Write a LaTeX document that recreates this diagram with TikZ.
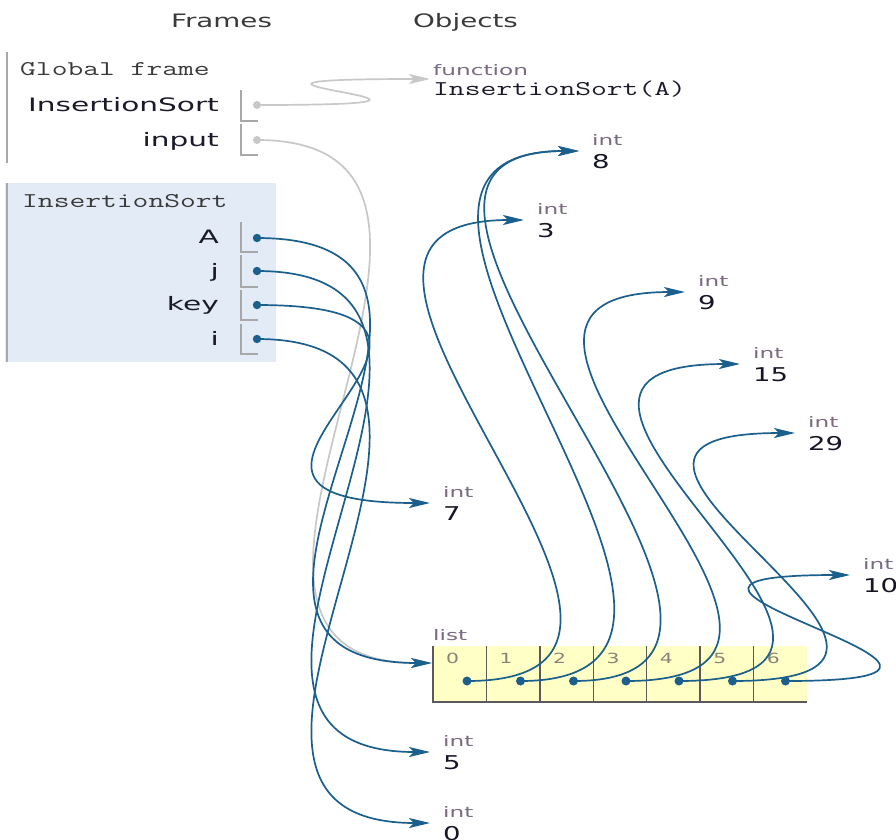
\documentclass[tikz,border=0pt]{standalone}
\usepackage{fontspec}
\usepackage{graphicx}
\setmainfont{DejaVu Sans}
\usetikzlibrary{arrows.meta}
\definecolor{arrowblue}{HTML}{1B5F8C}
\definecolor{lightgray}{HTML}{C8C8C8}
\definecolor{barcol}{HTML}{A8A8A8}
\definecolor{framebg}{HTML}{E2EBF6}
\definecolor{listbg}{HTML}{FFFFC6}
\definecolor{listline}{HTML}{5A5A5A}
\definecolor{hdrcol}{HTML}{3A3A3A}
\definecolor{varcol}{HTML}{1A1A2A}
\definecolor{typecol}{HTML}{7A6A82}
\definecolor{valcol}{HTML}{151525}
\definecolor{idxcol}{HTML}{8A8278}
\newcommand\sx[2]{\scalebox{#1}[1]{#2}}
\begin{document}
\begin{tikzpicture}[x=1pt,y=-1pt,
  hdr/.style={text=hdrcol,font=\fontsize{18.5}{20}\selectfont,inner sep=0pt,anchor=base},
  varname/.style={text=varcol,font=\fontsize{18.5}{20}\selectfont,inner sep=0pt,anchor=base east},
  monotext/.style={text=hdrcol,font=\ttfamily\fontsize{21}{24}\selectfont,inner sep=0pt,anchor=base west},
  typelab/.style={text=typecol,font=\fontsize{14.5}{16}\selectfont,inner sep=0pt,anchor=base west},
  valtext/.style={text=valcol,font=\fontsize{19}{21}\selectfont,inner sep=0pt,anchor=base west},
  idx/.style={text=idxcol,font=\fontsize{14}{16}\selectfont,inner sep=0pt,anchor=base west},
  ptrbox/.style={draw=barcol,line width=1.2pt},
  framebar/.style={draw=barcol,line width=2pt},
  ptr/.style={draw=arrowblue,line width=1.7pt,-{Stealth[length=21pt,width=10pt,inset=5pt]}},
  gptr/.style={draw=lightgray,line width=1.7pt,-{Stealth[length=21pt,width=10pt,inset=5pt]}},
  bdot/.style={fill=arrowblue},
  gdot/.style={fill=lightgray}
]
\useasboundingbox (0,0) rectangle (896,839);
\fill[white] (0,0) rectangle (896,839);

% headers
\node[hdr] (hframes) at (221.5,27) {\sx{1.5}{Frames}};
\node[hdr] (hobjects) at (465.5,27) {\sx{1.5}{Objects}};

% global frame
\draw[framebar] (7,52) -- (7,163);
\node[monotext] (gtitle) at (20,75) {\sx{1.46}{Global frame}};
\node[varname] (vIS) at (219,111) {\sx{1.6}{InsertionSort}};
\node[varname] (vinput) at (219,146) {\sx{1.6}{input}};
\draw[ptrbox] (241,90) -- (241,121) -- (258,121);
\draw[ptrbox] (241,124) -- (241,155) -- (258,155);
\coordinate (dIS) at (257,105);
\coordinate (dinput) at (257,140);

% local frame
\fill[framebg] (5,183) rectangle (276,362);
\draw[framebar] (7,183) -- (7,362);
\node[monotext] (ltitle) at (22,207) {\sx{1.46}{InsertionSort}};
\node[varname] (vA) at (219,243) {\sx{1.6}{A}};
\node[varname] (vj) at (219,277) {\sx{1.6}{j}};
\node[varname] (vkey) at (219,310) {\sx{1.6}{key}};
\node[varname] (vi) at (219,345) {\sx{1.6}{i}};
\draw[ptrbox] (241,222) -- (241,252) -- (258,252);
\draw[ptrbox] (241,255) -- (241,287) -- (258,287);
\draw[ptrbox] (241,290) -- (241,320) -- (258,320);
\draw[ptrbox] (241,324) -- (241,354) -- (258,354);
\coordinate (dA) at (257,238);
\coordinate (dj) at (257,271);
\coordinate (dkey) at (257,305);
\coordinate (di) at (257,339);

% function object
\node[typelab] (ofunc) at (433,75) {\sx{1.6}{function}};
\node[monotext,text=varcol] (ofuncname) at (433,95) {\sx{1.46}{InsertionSort(A)}};
\coordinate (tfunc) at (430,79);

% int objects
\newcommand\intobj[4]{%
  \node[typelab] (ot#1) at (#2,#3-6) {\sx{1.6}{int}};
  \node[valtext] (ov#1) at (#2,#3+17) {\sx{1.45}{#4}};
  \coordinate (t#1) at (#2-13,#3);}
\intobj{8}{592}{151}{8}
\intobj{3}{537}{220}{3}
\intobj{9}{698}{292}{9}
\intobj{15}{753}{364}{15}
\intobj{29}{808}{433}{29}
\intobj{10}{863}{575}{10}
\intobj{7}{443}{503}{7}
\intobj{5}{443}{752}{5}
\intobj{0}{443}{823}{0}

% list object
\node[typelab] (olist) at (433,640) {\sx{1.6}{list}};
\fill[listbg] (433,646) rectangle (807,702);
\foreach \k/\xx in {0/433,1/486.4,2/539.9,3/593.3,4/646.7,5/700.1,6/753.6}{
  \draw[listline,line width=1.5pt] (\xx,646) -- (\xx,702);
  \node[idx] (idx\k) at (\xx+13,663) {\sx{1.45}{\k}};
}
\draw[listline,line width=1.5pt] (432.25,702) -- (807,702);
\coordinate (tlist) at (432,663);
\coordinate (e0) at (467,681);
\coordinate (e1) at (520.5,681);
\coordinate (e2) at (573.5,681);
\coordinate (e3) at (626,681);
\coordinate (e4) at (679,681);
\coordinate (e5) at (732.5,681);
\coordinate (e6) at (785.5,681);

% gray pointers
\draw[gptr] (dIS) .. controls +(300,0) and +(-300,0) .. (tfunc);
\draw[gptr] (dinput) .. controls +(300,0) and +(-300,0) .. (tlist);
\fill[gdot] (dIS) circle (4);
\fill[gdot] (dinput) circle (4);

% variable pointers
\draw[ptr] (dA) .. controls +(300,0) and +(-300,0) .. (tlist);
\draw[ptr] (dj) .. controls +(300,0) and +(-300,0) .. (t5);
\draw[ptr] (dkey) .. controls +(300,0) and +(-300,0) .. (t7);
\draw[ptr] (di) .. controls +(300,0) and +(-300,0) .. (t0);
\foreach \d in {dA,dj,dkey,di}{\fill[bdot] (\d) circle (4.2);}

% list element pointers
\draw[ptr] (e0) .. controls +(300,0) and +(-300,0) .. (t3);
\draw[ptr] (e1) .. controls +(300,0) and +(-300,0) .. (t8);
\draw[ptr] (e2) .. controls +(300,0) and +(-300,0) .. (t8);
\draw[ptr] (e3) .. controls +(300,0) and +(-300,0) .. (t9);
\draw[ptr] (e4) .. controls +(300,0) and +(-300,0) .. (t15);
\draw[ptr] (e5) .. controls +(300,0) and +(-300,0) .. (t29);
\draw[ptr] (e6) .. controls +(300,0) and +(-300,0) .. (t10);
\foreach \d in {e0,e1,e2,e3,e4,e5,e6}{\fill[bdot] (\d) circle (4.5);}
\end{tikzpicture}
\end{document}
